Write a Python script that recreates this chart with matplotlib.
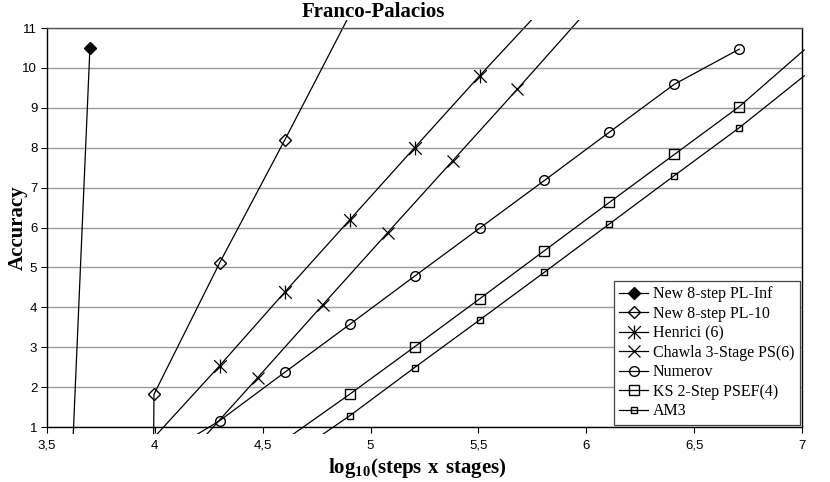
import matplotlib
matplotlib.use('Agg')
import matplotlib.pyplot as plt
from matplotlib.path import Path
from matplotlib.patches import Rectangle
from matplotlib.ticker import FuncFormatter, MultipleLocator

plt.rcParams['font.family'] = 'Liberation Sans'
plt.rcParams['mathtext.fontset'] = 'custom'
plt.rcParams['mathtext.rm'] = 'Liberation Serif'
plt.rcParams['mathtext.bf'] = 'Liberation Serif:bold'

# Données (x = log10(steps x stages), y = accuracy)
x_pl_inf = [3.398, 3.699]
y_pl_inf = [-27.2, 10.49]

x_pl10 = [3.699, 3.996, 4.301, 4.602, 4.903]
y_pl10 = [-200.0, 1.82, 5.12, 8.19, 11.33]

x_henrici = [4.000, 4.301, 4.602, 4.903, 5.204, 5.505, 5.806]
y_henrici = [0.76, 2.54, 4.38, 6.19, 8.00, 9.80, 11.55]

x_chawla = [4.176, 4.477, 4.778, 5.079, 5.380, 5.681, 5.982]
y_chawla = [0.43, 2.24, 4.06, 5.87, 7.67, 9.47, 11.30]

x_numerov = [4.000, 4.301, 4.602, 4.903, 5.204, 5.505, 5.806, 6.107, 6.408, 6.709]
y_numerov = [0.17, 1.16, 2.37, 3.57, 4.78, 5.98, 7.18, 8.39, 9.59, 10.47]

x_ks = [4.602, 4.903, 5.204, 5.505, 5.806, 6.107, 6.408, 6.709, 7.010]
y_ks = [0.67, 1.82, 3.01, 4.21, 5.42, 6.63, 7.83, 9.03, 10.45]

x_am3 = [4.602, 4.903, 5.204, 5.505, 5.806, 6.107, 6.408, 6.709, 7.010]
y_am3 = [0.16, 1.28, 2.49, 3.68, 4.88, 6.09, 7.30, 8.50, 9.80]

noms = ['New 8-step PL-Inf', 'New 8-step PL-10', 'Henrici (6)',
        'Chawla 3-Stage PS(6)', 'Numerov', 'KS 2-Step PSEF(4)', 'AM3']

xmin, xmax = 3.5, 7.0
ymin, ymax = 1.0, 11.0

# marqueur étoile (X + barre verticale) façon Excel
etoile = Path([(-1, -1), (1, 1), (-1, 1), (1, -1), (0, -1.1), (0, 1.1)],
              [Path.MOVETO, Path.LINETO, Path.MOVETO, Path.LINETO, Path.MOVETO, Path.LINETO])

styles = [
    dict(marker='D', ms=6, mfc='black', mec='black'),
    dict(marker='D', ms=6, mfc='none', mec='black'),
    dict(marker=etoile, ms=10, mfc='none', mec='black', mew=0.9),
    dict(marker='x', ms=8, mec='black', mew=0.9),
    dict(marker='o', ms=7, mfc='none', mec='black'),
    dict(marker='s', ms=7, mfc='none', mec='black'),
    dict(marker='s', ms=4, mfc='none', mec='black'),
]

series = [(x_pl_inf, y_pl_inf), (x_pl10, y_pl10), (x_henrici, y_henrici),
          (x_chawla, y_chawla), (x_numerov, y_numerov), (x_ks, y_ks), (x_am3, y_am3)]

fig = plt.figure(figsize=(8.3, 4.82), dpi=100)
ax = fig.add_axes([0.0566, 0.1141, 0.9097, 0.8278])

# zone de découpage un peu plus grande que les axes (comme Excel)
zone = Rectangle((-0.011, -0.017), 1.022, 1.037, transform=ax.transAxes)

for (xs, ys), nom, st in zip(series, noms, styles):
    visibles = [(xmin <= a <= xmax) and (ymin <= b <= ymax) for a, b in zip(xs, ys)]
    ligne, = ax.plot(xs, ys, color='black', lw=0.9, label=nom, markevery=visibles, **st)
    ligne.set_clip_path(zone)

ax.set_xlim(xmin, xmax)
ax.set_ylim(ymin, ymax)
ax.xaxis.set_major_locator(MultipleLocator(0.5))
ax.yaxis.set_major_locator(MultipleLocator(1))
virgule = FuncFormatter(lambda v, p: ('%g' % v).replace('.', ','))
ax.xaxis.set_major_formatter(virgule)
ax.yaxis.set_major_formatter(virgule)
ax.tick_params(labelsize=9.5, length=4, width=0.8, direction='out', colors='black')
ax.tick_params(axis='x', pad=5)
ax.tick_params(axis='y', pad=3)

ax.grid(axis='y', color='#9a9a9a', lw=1)
ax.set_axisbelow(True)
for s in ['left', 'bottom', 'right']:
    ax.spines[s].set_color('black')
    ax.spines[s].set_linewidth(1)
ax.spines['top'].set_color('#555555')
ax.spines['top'].set_linewidth(1)

ax.set_xlabel(r'$\mathbf{log}_{\mathbf{10}}\mathbf{(steps\ x\ stages)}$', fontsize=15)
ax.xaxis.set_label_coords(0.49, -0.072)
ax.set_ylabel('Accuracy', fontsize=15, fontweight='bold', family='Liberation Serif')
ax.yaxis.set_label_coords(-0.025, 0.5)
fig.text(0.45, 0.975, 'Franco-Palacios', ha='center', va='center', fontsize=15,
         fontweight='bold', family='Liberation Serif')

leg = ax.legend(loc='lower right', bbox_to_anchor=(0.997, 0.005), borderaxespad=0,
                prop={'family': 'Liberation Serif', 'size': 11.5}, fancybox=False,
                edgecolor='#444444', framealpha=1, handlelength=1.8, handletextpad=0.3,
                labelspacing=0.22, borderpad=0.35)
leg.get_frame().set_linewidth(0.9)

fig.savefig('out.png', dpi=100)
